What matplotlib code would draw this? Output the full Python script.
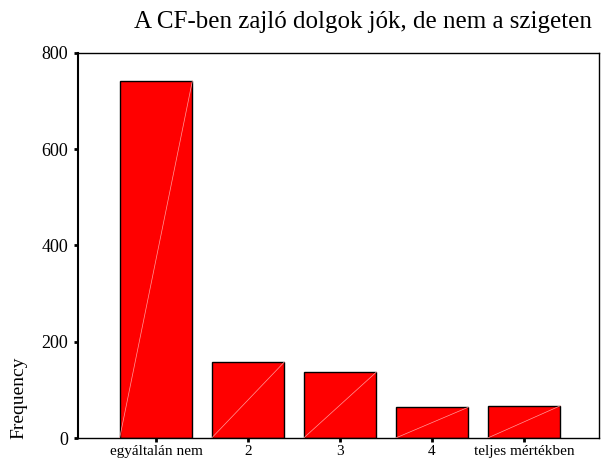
import matplotlib
matplotlib.use("Agg")
import matplotlib.pyplot as plt

# ==== data ====
categories = ["egyáltalán nem", "2", "3", "4", "teljes mértékben"]
frequency = [742, 158, 137, 64, 67]
yticks = [0, 200, 400, 600, 800]

plt.rcParams["font.family"] = ["Liberation Serif", "DejaVu Serif"]

fig = plt.figure(figsize=(6.15, 4.65), dpi=100)
ax = fig.add_axes([78 / 615, 1 - 438 / 465, 521 / 615, 385 / 465])

width = 0.79
xs = list(range(len(categories)))
ax.bar(xs, frequency, width=width, color="#ff0000", edgecolor="black", linewidth=1.0, zorder=2)

# thin light diagonal inside each bar
for x, v in zip(xs, frequency):
    ax.plot([x - width / 2, x + width / 2], [0, v], color="#ff9c9c", linewidth=0.5, zorder=3)

ax.set_xlim(-0.848, 4.815)
ax.set_ylim(0, 800)
ax.set_xticks(xs)
ax.set_xticklabels(categories, fontsize=11)
ax.set_yticks(yticks)
ax.set_yticklabels([str(t) for t in yticks], fontsize=13)
ax.tick_params(axis="both", direction="out", length=3, width=2, pad=2)
ax.tick_params(axis="y", pad=4)

for s in ax.spines.values():
    s.set_linewidth(1.0)
ax.spines["left"].set_linewidth(1.5)

fig.text(363 / 615, 1 - 22 / 465, "A CF-ben zajló dolgok jók, de nem a szigeten",
         fontsize=18, ha="center", va="center")
fig.text(19 / 615, 1 - 398 / 465, "Frequency", fontsize=14, rotation=90,
         ha="center", va="center")

fig.savefig("out.png", dpi=100)
